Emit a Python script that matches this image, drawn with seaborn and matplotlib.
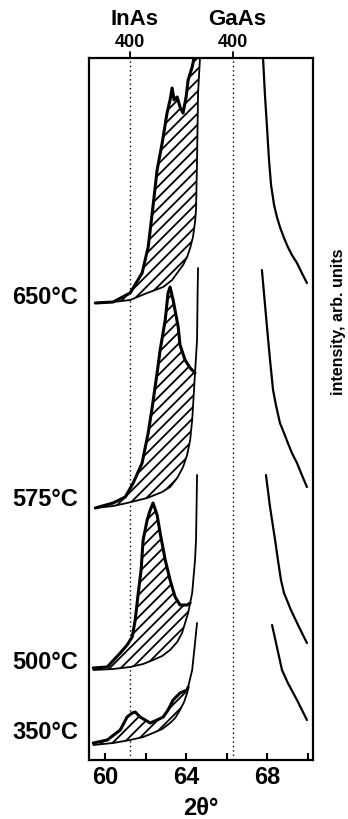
import matplotlib
matplotlib.use("Agg")
import matplotlib.pyplot as plt
import matplotlib.transforms as mtransforms
import seaborn as sns

# ---------------- data (2theta in degrees, intensity in arb. units, stacked) -------------
# 650 C
t650_meas_x = [59.51, 60.39, 61.23, 61.82, 62.12, 62.32, 62.56, 62.81, 63.05, 63.20, 63.30, 63.40, 63.55, 63.69, 63.84, 63.99, 64.09, 64.29, 64.40]
t650_meas_y = [457, 458, 467, 487, 513, 547, 590, 617, 647, 660, 672, 660, 663, 653, 647, 663, 680, 693, 704]
t650_base_x = [59.51, 60.39, 61.23, 62.07, 62.86, 63.30, 63.55, 63.84, 64.04, 64.19, 64.33, 64.43, 64.48, 64.53, 64.58, 64.68]
t650_base_y = [457, 458, 460, 467, 473, 480, 487, 495, 503, 512, 523, 538, 550, 600, 667, 704]
t650_tail_x = [67.78, 67.88, 67.98, 68.08, 68.18, 68.33, 68.47, 68.62, 68.82, 69.01, 69.21, 69.46, 69.70, 69.95]
t650_tail_y = [704, 665, 633, 600, 575, 555, 543, 533, 522, 513, 505, 497, 487, 477]

# 575 C
t575_meas_x = [59.51, 60.39, 60.99, 61.38, 61.82, 62.12, 62.32, 62.56, 62.71, 62.96, 63.10, 63.20, 63.35, 63.60, 63.69, 63.94, 64.19, 64.43]
t575_meas_y = [252, 257, 263, 277, 297, 327, 353, 387, 410, 440, 467, 473, 460, 433, 415, 400, 392, 387]
t575_base_x = [59.51, 60.39, 61.08, 62.07, 62.81, 63.20, 63.55, 63.84, 64.04, 64.19, 64.29, 64.33, 64.43, 64.53, 64.56, 64.58]
t575_base_y = [252, 254, 257, 262, 268, 273, 282, 293, 305, 320, 340, 353, 387, 420, 470, 492]
t575_tail_x = [67.73, 67.98, 68.13, 68.28, 68.42, 68.62, 68.82, 69.01, 69.21, 69.46, 69.70, 69.95]
t575_tail_y = [490, 433, 400, 370, 355, 337, 327, 317, 307, 297, 285, 273]

# 500 C
t500_meas_x = [59.41, 60.10, 60.74, 61.08, 61.33, 61.48, 61.63, 61.77, 61.87, 62.07, 62.22, 62.36, 62.56, 62.71, 62.96, 63.20, 63.30, 63.45, 63.69, 64.04, 64.19]
t500_meas_y = [92, 93, 107, 115, 123, 140, 167, 190, 220, 240, 250, 257, 245, 227, 200, 180, 173, 163, 155, 155, 157]
t500_base_x = [59.41, 60.39, 61.23, 61.87, 62.36, 62.81, 63.20, 63.55, 63.79, 64.09, 64.19, 64.29, 64.43, 64.48, 64.53]
t500_base_y = [90, 91, 93, 96, 100, 104, 110, 118, 127, 147, 157, 167, 200, 220, 285]
t500_tail_x = [67.93, 68.13, 68.38, 68.52, 68.67, 68.82, 69.16, 69.56, 69.95]
t500_tail_y = [285, 253, 220, 200, 180, 167, 150, 133, 117]

# 350 C
t350_meas_x = [59.41, 60.10, 60.74, 61.08, 61.33, 61.48, 61.72, 61.97, 62.22, 62.56, 62.86, 63.10, 63.35, 63.69, 64.04, 64.09]
t350_meas_y = [17, 20, 30, 43, 47, 48, 43, 40, 37, 40, 43, 50, 60, 67, 70, 73]
t350_base_x = [59.41, 60.39, 61.23, 61.87, 62.36, 62.81, 63.20, 63.45, 63.69, 63.89, 64.04, 64.09, 64.29, 64.43, 64.53]
t350_base_y = [15, 17, 20, 23, 27, 31, 37, 42, 50, 58, 67, 73, 90, 117, 137]
t350_tail_x = [68.23, 68.47, 68.72, 69.01, 69.46, 69.95]
t350_tail_y = [135, 113, 90, 77, 60, 40]

temp_labels = ["650°C", "575°C", "500°C", "350°C"]
temp_label_y = [465, 263, 100, 30]

peak_pos = [61.23, 66.31]          # InAs 400, GaAs 400
peak_names = ["InAs", "GaAs"]
peak_hkl = ["400", "400"]

x_major = [60, 64, 68]
x_minor = [62, 66, 70]

# ---------------- styling -------------------------------------------------------------
sns.set_theme(style="white")
plt.rcParams["font.family"] = ["Liberation Sans", "DejaVu Sans"]
plt.rcParams["font.weight"] = "bold"
plt.rcParams["text.color"] = "black"
plt.rcParams["axes.labelcolor"] = "black"
plt.rcParams["xtick.color"] = "black"
plt.rcParams["ytick.color"] = "black"
plt.rcParams["hatch.linewidth"] = 1.3
plt.rcParams["hatch.color"] = "black"

fig = plt.figure(figsize=(3.48, 8.19), dpi=100)
ax = fig.add_axes([89 / 348, 59 / 819, 224 / 348, 702 / 819])

traces = [
    (t650_meas_x, t650_meas_y, t650_base_x, t650_base_y, t650_tail_x, t650_tail_y),
    (t575_meas_x, t575_meas_y, t575_base_x, t575_base_y, t575_tail_x, t575_tail_y),
    (t500_meas_x, t500_meas_y, t500_base_x, t500_base_y, t500_tail_x, t500_tail_y),
    (t350_meas_x, t350_meas_y, t350_base_x, t350_base_y, t350_tail_x, t350_tail_y),
]

for mx, my, bx, by, tx, ty in traces:
    end_y = my[-1]
    bsel = [(x, y) for x, y in zip(bx, by) if y <= end_y]
    px = list(mx) + [p[0] for p in bsel][::-1]
    py = list(my) + [p[1] for p in bsel][::-1]
    ax.fill(px, py, facecolor="white", edgecolor="black", hatch="///", linewidth=0, zorder=1)
    sns.lineplot(x=bx, y=by, sort=False, estimator=None, color="black", linewidth=1.3, ax=ax, zorder=3)
    sns.lineplot(x=mx, y=my, sort=False, estimator=None, color="black", linewidth=2.2, ax=ax, zorder=4)
    sns.lineplot(x=tx, y=ty, sort=False, estimator=None, color="black", linewidth=1.6, ax=ax, zorder=3)

for p in peak_pos:
    ax.axvline(p, color="black", linestyle=(0, (1, 2.2)), linewidth=1.0, zorder=0)

ax.set_xlim(59.2, 70.25)
ax.set_ylim(0, 702)

ax.set_xticks(x_major)
ax.set_xticks(x_minor, minor=True)
ax.set_xticklabels([str(v) for v in x_major], fontsize=17, fontweight="bold")
ax.tick_params(axis="x", which="both", direction="in", length=5, width=1.5,
               bottom=True, top=False, pad=4, colors="black")

ax.set_yticks(temp_label_y)
ax.set_yticklabels(temp_labels, fontsize=17, fontweight="bold")
ax.tick_params(axis="y", which="both", length=0, pad=8, left=True, colors="black")

ax.set_xlabel("2θ°", fontsize=17, fontweight="bold", labelpad=6, color="black")
ax.yaxis.set_label_position("right")
ax.set_ylabel("intensity, arb. units", fontsize=11.5, fontweight="bold", rotation=90, color="black")
ax.yaxis.set_label_coords(1.08, 0.624)

for s in ax.spines.values():
    s.set_visible(True)
    s.set_color("black")
    s.set_linewidth(1.6)

trans = mtransforms.blended_transform_factory(ax.transData, ax.transAxes)
for p, n, h in zip(peak_pos, peak_names, peak_hkl):
    ax.plot([p, p], [1.0, 1.008], color="black", lw=1.3, transform=trans, clip_on=False)
    ax.text(p, 1.0 + 16 / 702, h, transform=trans, ha="center", va="center",
            fontsize=13, fontweight="bold", color="black")
    ax.text(p + 0.2, 1.0 + 39 / 702, n, transform=trans, ha="center", va="center",
            fontsize=16, fontweight="bold", color="black")

fig.savefig("out.png", dpi=100, facecolor="white")
